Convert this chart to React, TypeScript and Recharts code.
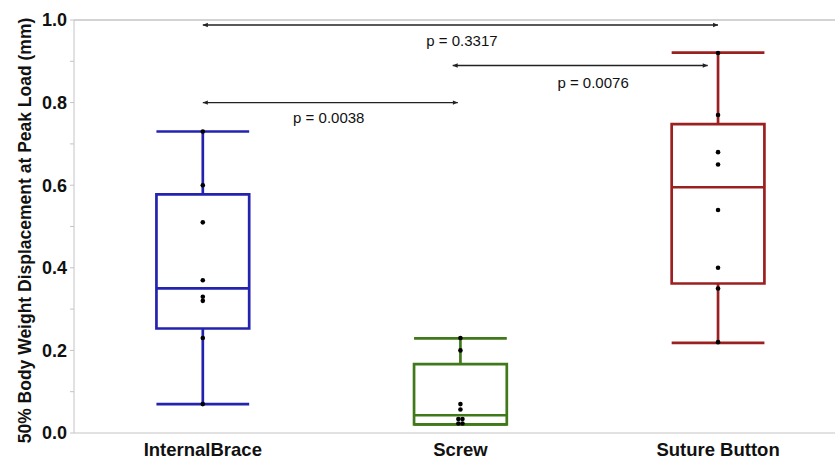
import React from 'react';
import {
  ComposedChart,
  Scatter,
  XAxis,
  YAxis,
  ReferenceArea,
  ReferenceLine,
  ReferenceDot,
} from 'recharts';

const categories = ['InternalBrace', 'Screw', 'Suture Button'];

// raw specimen values (mm)
const internalBracePoints = [0.73, 0.6, 0.51, 0.37, 0.33, 0.32, 0.23, 0.07];
const screwPoints = [0.23, 0.2, 0.07, 0.057, 0.034, 0.034, 0.023, 0.023];
const sutureButtonPoints = [0.92, 0.77, 0.68, 0.65, 0.54, 0.4, 0.35, 0.22];
// small horizontal spread for overlapping dots
const screwSpread = [0, 0, 0, 0, -0.008, 0.008, -0.008, 0.008];

// box stats: [min, q1, median, q3, max]
const internalBraceBox = [0.07, 0.253, 0.35, 0.578, 0.73];
const screwBox = [0.021, 0.021, 0.043, 0.167, 0.229];
const sutureButtonBox = [0.218, 0.362, 0.595, 0.748, 0.921];

const yTicks = [0, 0.1, 0.2, 0.3, 0.4, 0.5, 0.6, 0.7, 0.8, 0.9, 1.0];

// comparisons: [from category, to category, line height, p value]
const comparisons: [number, number, number, string][] = [
  [0, 2, 0.988, 'p = 0.3317'],
  [0.97, 1.96, 0.89, 'p = 0.0076'],
  [0, 0.99, 0.8, 'p = 0.0038'],
];
const pLabelAt = [
  [1.006, 0.949],
  [1.515, 0.849],
  [0.489, 0.764],
];

const colors = ['#2323b0', '#40791a', '#9b2020'];
const halfWidth = 0.18;
const boxes = [internalBraceBox, screwBox, sutureButtonBox];

const points = [
  ...internalBracePoints.map((v) => ({ x: 0, y: v })),
  ...screwPoints.map((v, i) => ({ x: 1 + screwSpread[i], y: v })),
  ...sutureButtonPoints.map((v) => ({ x: 2, y: v })),
];

const axisGray = '#c4c4c4';

const Arrow = (props: any) => {
  const { x1, y1, x2, y2 } = props;
  const h = 5;
  const w = 2.2;
  return (
    <g>
      <line x1={x1} y1={y1} x2={x2} y2={y2} stroke="#222" strokeWidth={1.4} />
      <polygon points={`${x1},${y1} ${x1 + h},${y1 - w} ${x1 + h},${y1 + w}`} fill="#222" />
      <polygon points={`${x2},${y2} ${x2 - h},${y2 - w} ${x2 - h},${y2 + w}`} fill="#222" />
    </g>
  );
};

const BoxPlotChart = () => {
  const sw = 2.7;
  return (
    <ComposedChart
      width={835}
      height={460}
      margin={{ top: 20, right: 0, bottom: 0, left: 0 }}
      style={{ fontFamily: '"Liberation Sans", Arial, sans-serif' }}
    >
      <XAxis
        type="number"
        dataKey="x"
        domain={[-0.5, 2.454]}
        ticks={[0, 1, 2]}
        allowDataOverflow
        tickFormatter={(t: number) => categories[t]}
        height={27}
        stroke={axisGray}
        tickLine={false}
        tickMargin={4}
        tick={{ fill: '#111', fontSize: 18.5, fontWeight: 'bold' }}
      />
      <YAxis
        type="number"
        dataKey="y"
        domain={[0, 1]}
        ticks={yTicks}
        interval={0}
        width={74}
        stroke={axisGray}
        tickSize={4}
        tickMargin={3}
        tickFormatter={(t: number) => (Math.round(t * 10) % 2 === 0 ? t.toFixed(1) : '')}
        tick={{ fill: '#111', fontSize: 18, fontWeight: 'bold' }}
        label={{
          value: '50% Body Weight Displacement at Peak Load (mm)',
          angle: -90,
          position: 'insideLeft',
          offset: 25,
          dy: 4,
          style: { textAnchor: 'middle', fontSize: 17.5, fontWeight: 'bold', fill: '#111' },
        }}
      />
      <ReferenceLine y={1} stroke={axisGray} strokeWidth={1.5} />

      {boxes.map((b, i) => (
        <ReferenceArea
          key={`box${i}`}
          x1={i - halfWidth}
          x2={i + halfWidth}
          y1={b[1]}
          y2={b[3]}
          fill="none"
          fillOpacity={0}
          stroke={colors[i]}
          strokeWidth={sw}
          strokeOpacity={1}
        />
      ))}
      {boxes.map((b, i) => (
        <ReferenceLine
          key={`med${i}`}
          segment={[{ x: i - halfWidth, y: b[2] }, { x: i + halfWidth, y: b[2] }]}
          stroke={colors[i]}
          strokeWidth={sw}
        />
      ))}
      {boxes.map((b, i) => (
        <ReferenceLine
          key={`wu${i}`}
          segment={[{ x: i, y: b[3] }, { x: i, y: b[4] }]}
          stroke={colors[i]}
          strokeWidth={sw}
        />
      ))}
      {boxes.map((b, i) => (
        <ReferenceLine
          key={`wl${i}`}
          segment={[{ x: i, y: b[0] }, { x: i, y: b[1] }]}
          stroke={colors[i]}
          strokeWidth={sw}
        />
      ))}
      {boxes.map((b, i) => (
        <ReferenceLine
          key={`cu${i}`}
          segment={[{ x: i - halfWidth, y: b[4] }, { x: i + halfWidth, y: b[4] }]}
          stroke={colors[i]}
          strokeWidth={sw}
        />
      ))}
      {boxes.map((b, i) => (
        <ReferenceLine
          key={`cl${i}`}
          segment={[{ x: i - halfWidth, y: b[0] }, { x: i + halfWidth, y: b[0] }]}
          stroke={colors[i]}
          strokeWidth={sw}
        />
      ))}

      {comparisons.map(([a, b, y], i) => (
        <ReferenceLine
          key={`cmp${i}`}
          segment={[{ x: a, y }, { x: b, y }]}
          shape={Arrow}
        />
      ))}
      {comparisons.map((c, i) => (
        <ReferenceDot
          key={`pl${i}`}
          x={pLabelAt[i][0]}
          y={pLabelAt[i][1]}
          r={0}
          fill="none"
          stroke="none"
          label={{ value: c[3], position: 'center', fontSize: 15, fill: '#111' }}
        />
      ))}

      <Scatter
        data={points}
        fill="#000"
        isAnimationActive={false}
        shape={(p: any) => <circle cx={p.cx} cy={p.cy} r={2.3} fill="#000" />}
      />
    </ComposedChart>
  );
};

export default function App() {
  return (
    <div>
      <style>{'body{margin:0;}'}</style>
      <BoxPlotChart />
    </div>
  );
}
